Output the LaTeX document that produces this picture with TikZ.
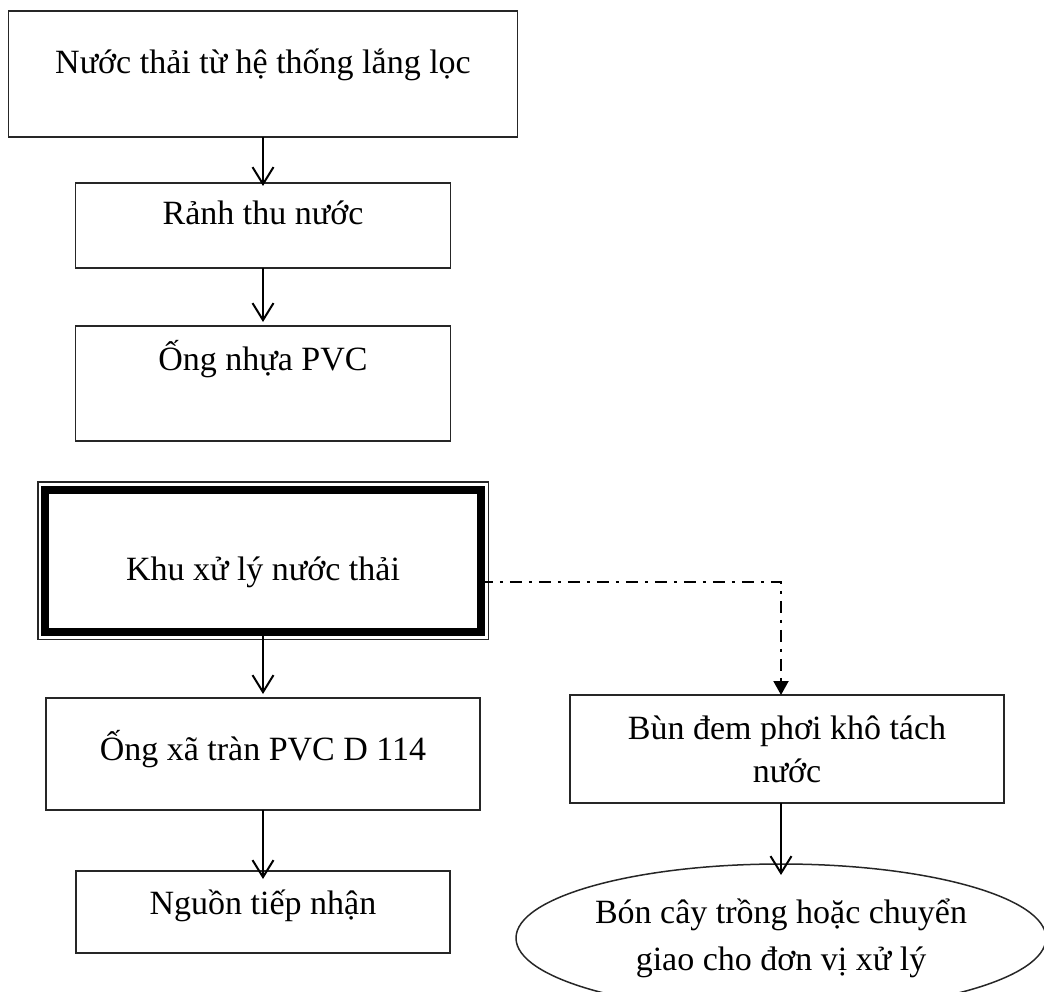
\documentclass[tikz,border=0pt]{standalone}
\usepackage{fontspec}
\setmainfont{Liberation Serif}
\usepackage{tikz}
\usetikzlibrary{shapes.geometric, arrows.meta, positioning}
\definecolor{boxline}{HTML}{262626}

\begin{document}
\begin{tikzpicture}[x=1pt, y=-1pt, font=\fontsize{34}{43}\selectfont,
	stage/.style={draw=boxline, line width=1.5pt, inner sep=0pt, outer sep=0pt, align=center},
	flow/.style={-{Straight Barb[length=17pt, width=21pt]}, line width=2pt},
	sludge/.style={-{Triangle[length=14pt, width=15pt]}, line width=2pt, dash pattern=on 12pt off 7pt on 3pt off 7pt}]
	\useasboundingbox (0,0) rectangle (1044,992);
	% cot chinh
	\node[stage, minimum width=509, text height=63, text depth=63] (nuoc) at (263,74) {Nước thải từ hệ thống lắng lọc};
	\node[stage, minimum width=375, text height=42, text depth=43] (ranh) at (263,225.5) {Rảnh thu nước};
	\node[stage, minimum width=375, text height=44, text depth=71] (ong) at (263,383.5) {Ống nhựa PVC};
	\node[stage, draw=black, line width=8pt, minimum width=435.5, text height=91, text depth=51.5] (khu) at (263,560.75) {Khu xử lý nước thải};
	\draw[boxline, line width=1.5pt] ([xshift=-7.5pt, yshift=7.5pt]khu.north west) rectangle ([xshift=7.5pt, yshift=-7.5pt]khu.south east);
	\node[stage, minimum width=434, text height=62, text depth=50] (xa) at (263,754) {Ống xã tràn PVC D 114};
	\node[stage, minimum width=374, text height=43, text depth=39] (nguon) at (263,912) {Nguồn tiếp nhận};
	% nhanh bun
	\node[stage, minimum width=434, minimum height=108] (bun) at (787,749) {Bùn đem phơi khô tách\\nước};
	\node[stage, ellipse, minimum width=530, minimum height=148] (bon) at (781,938) {Bón cây trồng hoặc chuyển\\[4pt]giao cho đơn vị xử lý};
	\coordinate (turn) at (781,582);
	\foreach \a/\b/\s in {nuoc/ranh/-3pt, ranh/ong/4pt, khu/xa/4pt, xa/nguon/-8pt}
		\draw[flow, shorten >=\s] (\a) -- (\b);
	\draw[sludge] (khu.east |- turn) -- (turn) -- (turn |- bun.north);
	\draw[flow, shorten >=-11pt] (bon.north |- bun.south) -- (bon.north);
\end{tikzpicture}
\end{document}
